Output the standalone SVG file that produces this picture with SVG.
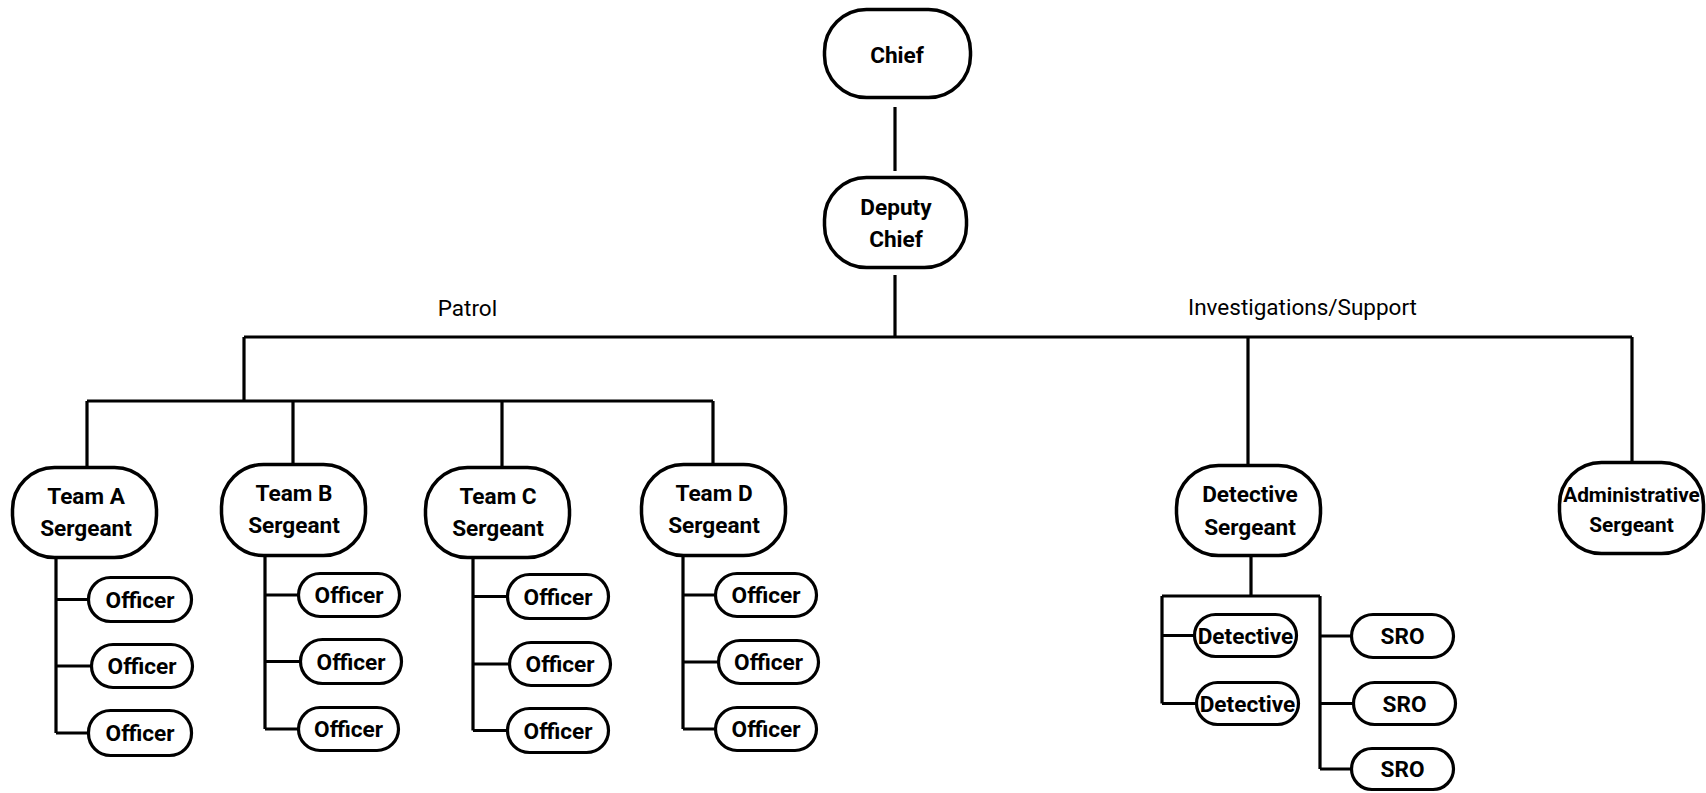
<svg xmlns="http://www.w3.org/2000/svg" width="1706" height="793" viewBox="0 0 1706 793">
<style>
.n{fill:#fff;stroke:#000;stroke-width:3.5}
.p{fill:#fff;stroke:#000;stroke-width:3.2}
.t{font-family:Roboto,"Liberation Sans",sans-serif;font-weight:bold;font-size:22.6px;fill:#000;text-anchor:middle}
.s{font-size:20.8px}
.l{font-family:Roboto,"Liberation Sans",sans-serif;font-size:22.5px;fill:#000;text-anchor:middle}
#connectors path{fill:none;stroke:#000;stroke-width:3.2}
</style>
<rect width="1706" height="793" fill="#fff"/>
<g id="connectors">
<path d="M895 107V171"/>
<path d="M895 275V337"/>
<path d="M244 337H1632"/>
<path d="M244 337V401"/>
<path d="M87 401H713"/>
<path d="M87 401V466M293 401V464M502 401V466M713 401V464"/>
<path d="M1248 337V465M1632 337V462"/>
<path d="M56 558V733M56 599.5H88M56 666H91M56 733H88"/>
<path d="M265 556V729M265 595H298M265 661.5H300M265 729H298"/>
<path d="M473 558V730.5M473 596.5H507M473 664H509M473 730.5H507"/>
<path d="M683 556V729M683 595H715M683 662H718M683 729H715"/>
<path d="M1251 556V596M1162 596H1320M1162 596V703.5M1162 635.5H1194M1162 703.5H1196"/>
<path d="M1320 596V769M1320 636H1351M1320 703.5H1353M1320 769H1351"/>
</g>
<text class="l" x="467.5" y="316">Patrol</text>
<text class="l" x="1302.5" y="315">Investigations/Support</text>
<g id="chief"><rect class="n" x="824.5" y="9.5" width="146" height="88" rx="42"/><text class="t" x="897" y="63">Chief</text></g>
<g id="deputy"><rect class="n" x="824.5" y="177.5" width="142" height="90" rx="42"/><text class="t" x="896" y="215">Deputy</text><text class="t" x="896" y="247">Chief</text></g>
<g id="teamA"><rect class="n" x="12.5" y="467.5" width="144" height="90" rx="42"/><text class="t" x="86" y="504">Team A</text><text class="t" x="86" y="536">Sergeant</text></g>
<g id="teamB"><rect class="n" x="221.5" y="464.5" width="144" height="91" rx="42"/><text class="t" x="294" y="501">Team B</text><text class="t" x="294" y="533">Sergeant</text></g>
<g id="teamC"><rect class="n" x="425.5" y="467.5" width="144" height="90" rx="42"/><text class="t" x="498" y="504">Team C</text><text class="t" x="498" y="536">Sergeant</text></g>
<g id="teamD"><rect class="n" x="641.5" y="464.5" width="144" height="91" rx="42"/><text class="t" x="714" y="501">Team D</text><text class="t" x="714" y="533">Sergeant</text></g>
<g id="detSgt"><rect class="n" x="1176.5" y="465.5" width="144" height="90" rx="42"/><text class="t" x="1250" y="502">Detective</text><text class="t" x="1250" y="535">Sergeant</text></g>
<g id="adminSgt"><rect class="n" x="1559.5" y="462.5" width="144" height="91" rx="42"/><text class="t s" x="1631.5" y="502">Administrative</text><text class="t s" x="1631.5" y="532">Sergeant</text></g>
<g id="officerA1"><rect class="p" x="88.5" y="577.5" width="103" height="44" rx="22"/><text class="t" x="140" y="608">Officer</text></g>
<g id="officerA2"><rect class="p" x="91.5" y="644.5" width="101" height="43" rx="21.5"/><text class="t" x="142" y="674">Officer</text></g>
<g id="officerA3"><rect class="p" x="88.5" y="710.5" width="103" height="45" rx="22"/><text class="t" x="140" y="741">Officer</text></g>
<g id="officerB1"><rect class="p" x="298.5" y="573.5" width="101" height="43" rx="21.5"/><text class="t" x="349" y="603">Officer</text></g>
<g id="officerB2"><rect class="p" x="300.5" y="639.5" width="101" height="44" rx="22"/><text class="t" x="351" y="670">Officer</text></g>
<g id="officerB3"><rect class="p" x="298.5" y="707.5" width="100" height="43" rx="21.5"/><text class="t" x="348.5" y="737">Officer</text></g>
<g id="officerC1"><rect class="p" x="507.5" y="574.5" width="101" height="44" rx="22"/><text class="t" x="558" y="605">Officer</text></g>
<g id="officerC2"><rect class="p" x="509.5" y="642.5" width="101" height="43" rx="21.5"/><text class="t" x="560" y="672">Officer</text></g>
<g id="officerC3"><rect class="p" x="507.5" y="708.5" width="101" height="44" rx="22"/><text class="t" x="558" y="739">Officer</text></g>
<g id="officerD1"><rect class="p" x="715.5" y="573.5" width="101" height="43" rx="21.5"/><text class="t" x="766" y="603">Officer</text></g>
<g id="officerD2"><rect class="p" x="718.5" y="640.5" width="100" height="43" rx="21.5"/><text class="t" x="768.5" y="670">Officer</text></g>
<g id="officerD3"><rect class="p" x="715.5" y="707.5" width="101" height="43" rx="21.5"/><text class="t" x="766" y="737">Officer</text></g>
<g id="detective1"><rect class="p" x="1194.5" y="614.5" width="102" height="42" rx="21"/><text class="t" x="1245.5" y="644">Detective</text></g>
<g id="detective2"><rect class="p" x="1196.5" y="682.5" width="102" height="42" rx="21"/><text class="t" x="1247.5" y="712">Detective</text></g>
<g id="sro1"><rect class="p" x="1351.5" y="614.5" width="102" height="43" rx="21.5"/><text class="t" x="1402.5" y="644">SRO</text></g>
<g id="sro2"><rect class="p" x="1353.5" y="682.5" width="102" height="42" rx="21"/><text class="t" x="1404.5" y="712">SRO</text></g>
<g id="sro3"><rect class="p" x="1351.5" y="748.5" width="102" height="41" rx="20.5"/><text class="t" x="1402.5" y="777">SRO</text></g>
</svg>
